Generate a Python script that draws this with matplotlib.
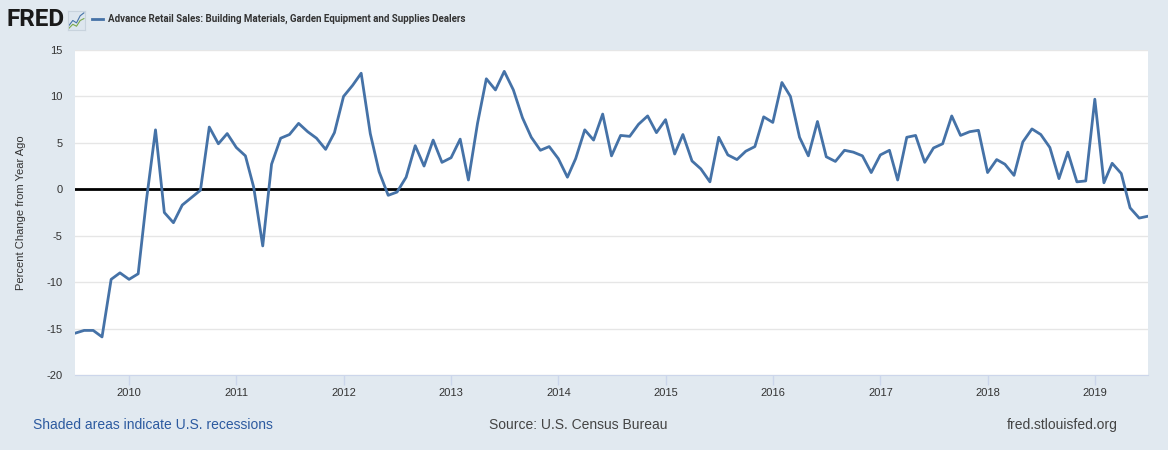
import numpy as np
import pandas as pd
import matplotlib
matplotlib.use("Agg")
import matplotlib.pyplot as plt
import matplotlib.dates as mdates

plt.rcParams['font.family'] = ['Liberation Sans', 'DejaVu Sans']
plt.rcParams['axes.unicode_minus'] = False

# monthly, percent change from year ago, 2009-07 .. 2019-07
start = "2009-07-01"
values = [
    -15.5, -15.2, -15.2, -15.9, -9.7, -9.0,            # 2009
    -9.7, -9.1, -1.2, 6.4, -2.5, -3.6, -1.7, -0.9, -0.1, 6.7, 4.9, 6.0,    # 2010
    4.5, 3.6, 0.25, -6.1, 2.7, 5.5, 5.9, 7.1, 6.2, 5.5, 4.3, 6.1,          # 2011
    10.0, 11.2, 12.5, 6.0, 1.9, -0.65, -0.3, 1.3, 4.7, 2.5, 5.3, 2.9,      # 2012
    3.4, 5.4, 1.0, 7.1, 11.9, 10.7, 12.7, 10.7, 7.7, 5.6, 4.2, 4.6,        # 2013
    3.3, 1.3, 3.3, 6.4, 5.3, 8.1, 3.6, 5.8, 5.7, 7.0, 7.9, 6.1,            # 2014
    7.5, 3.8, 5.9, 3.05, 2.2, 0.8, 5.6, 3.7, 3.2, 4.1, 4.6, 7.8,           # 2015
    7.2, 11.5, 10.0, 5.6, 3.6, 7.3, 3.5, 3.0, 4.2, 4.0, 3.6, 1.8,          # 2016
    3.7, 4.2, 1.0, 5.6, 5.8, 2.9, 4.45, 4.9, 7.9, 5.8, 6.2, 6.35,          # 2017
    1.8, 3.2, 2.7, 1.5, 5.1, 6.5, 5.9, 4.5, 1.15, 4.0, 0.8, 0.9,           # 2018
    9.7, 0.7, 2.8, 1.7, -2.0, -3.1, -2.9,                                  # 2019
]
dates = pd.date_range(start, periods=len(values), freq="MS")

series_name = "Advance Retail Sales: Building Materials, Garden Equipment and Supplies Dealers"
y_label = "Percent Change from Year Ago"
y_ticks = [-20, -15, -10, -5, 0, 5, 10, 15]
years = list(range(2010, 2020))

bg = "#e1e9f0"
line_color = "#4572a7"
W, H = 1168, 450

fig = plt.figure(figsize=(W / 100, H / 100), dpi=100, facecolor=bg)
ax = fig.add_axes([75 / W, 1 - 375 / H, (1148 - 75) / W, (375 - 50) / H])
ax.set_facecolor("white")

ax.plot(dates, values, color=line_color, lw=2, zorder=3)
ax.axhline(0, color="black", lw=2, zorder=2)

ax.set_ylim(-20, 15)
ax.set_yticks(y_ticks)
ax.set_xlim(pd.Timestamp(start), dates[-1])
ax.set_xticks([pd.Timestamp(f"{y}-01-01") for y in years])
ax.xaxis.set_major_formatter(mdates.DateFormatter("%Y"))

ax.grid(axis="y", color="#e6e6e6", lw=1, zorder=0)
for s in ["top", "left", "right"]:
    ax.spines[s].set_visible(False)
ax.spines["bottom"].set_color("#ccd6eb")
ax.tick_params(axis="x", colors="#ccd6eb", length=7, width=1, labelcolor="#333333",
               labelsize=8, pad=2)
ax.tick_params(axis="y", length=0, labelcolor="#333333", labelsize=8, pad=9)
ax.set_ylabel(y_label, fontsize=8, color="#333333", labelpad=15)

# header
fig.text(7 / W, 1 - 20 / H, "FRED", fontsize=17.5, fontweight="bold",
         family=["Roboto", "Liberation Sans"],
         color="#1a1a1a", va="center", ha="left")
icon = fig.add_axes([68 / W, 1 - 30 / H, 17 / W, 19 / H])
icon.set_facecolor("#dde6ee")
icon.plot([0, 1, 2, 3, 4], [1, 2, 1.5, 3, 3.6], color="#4572a7", lw=0.8)
icon.plot([0, 1, 2, 3, 4], [0.4, 1.2, 0.8, 2.0, 2.4], color="#7aa84a", lw=0.8)
icon.set_xlim(-0.3, 4.3)
icon.set_ylim(0, 4)
icon.set_xticks([])
icon.set_yticks([])
for s in icon.spines.values():
    s.set_color("#c8d3dd")
fig.add_artist(plt.Line2D([92 / W, 103 / W], [1 - 19 / H] * 2,
                          color=line_color, lw=2))
fig.text(108 / W, 1 - 19 / H, series_name, fontsize=7.0, fontweight="bold",
         family=["Roboto", "Liberation Sans"],
         color="#333333", va="center", ha="left")

# footer
fig.text(33 / W, 1 - 425 / H, "Shaded areas indicate U.S. recessions",
         fontsize=10, color="#2c5aa0", va="center", ha="left")
fig.text(578 / W, 1 - 425 / H, "Source: U.S. Census Bureau",
         fontsize=10, color="#444444", va="center", ha="center")
fig.text(1118 / W, 1 - 425 / H, "fred.stlouisfed.org",
         fontsize=10, color="#444444", va="center", ha="right")

fig.savefig("out.png", dpi=100, facecolor=bg)
